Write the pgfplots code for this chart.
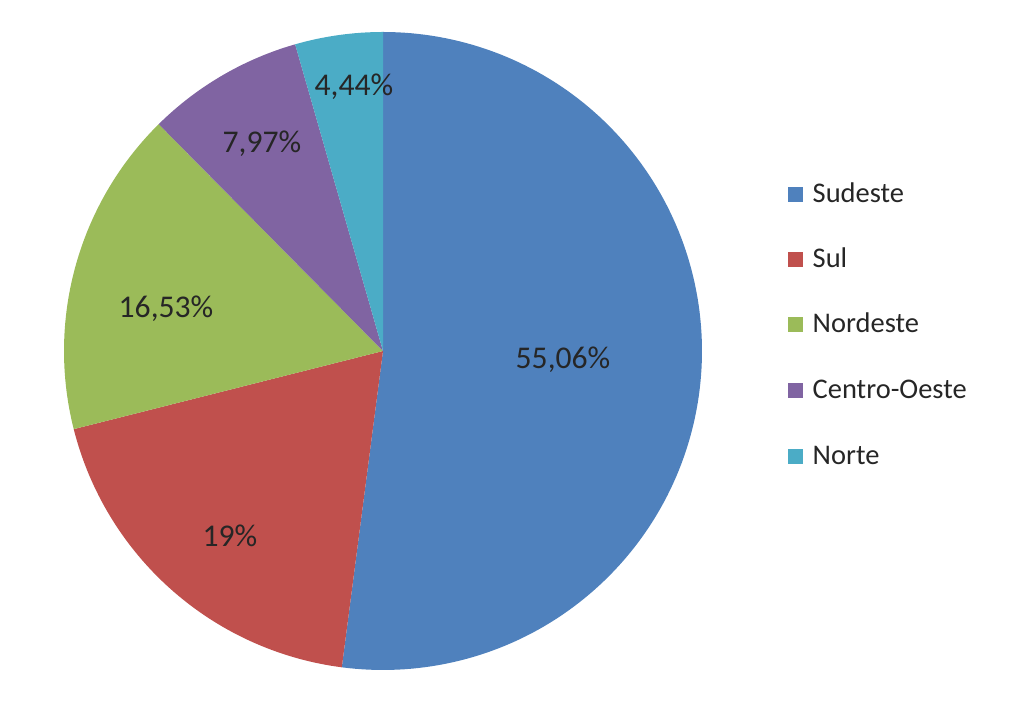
\documentclass[border=0pt]{standalone}
\usepackage{pgfplots}
\pgfplotsset{compat=1.18}
\usepackage{fontspec}
\setmainfont{Carlito}
\definecolor{cSud}{HTML}{4F81BD}
\definecolor{cSul}{HTML}{C0504D}
\definecolor{cNor}{HTML}{9BBB59}
\definecolor{cCen}{HTML}{8064A2}
\definecolor{cNrt}{HTML}{4BACC6}
% slice sizes (percent of the circle) as drawn
\def\vA{52.06}\def\vB{19}\def\vC{16.53}\def\vD{7.97}\def\vE{4.44}
\pgfmathsetmacro\aA{90-3.6*\vA}
\pgfmathsetmacro\aB{\aA-3.6*\vB}
\pgfmathsetmacro\aC{\aB-3.6*\vC}
\pgfmathsetmacro\aD{\aC-3.6*\vD}
\pgfmathsetmacro\aE{\aD-3.6*\vE}
\def\cx{383}\def\cy{365}\def\rr{319}
\begin{document}
\begin{tikzpicture}
\begin{axis}[
  width=10.24cm, height=7.16cm, scale only axis,
  xmin=0, xmax=1024, ymin=0, ymax=716,
  axis lines=none, clip=false,
  samples=150, variable=\t,
]
\path (rel axis cs:0,0) rectangle (rel axis cs:1,1);
\addplot[fill=cSud, draw=none, domain=\aA:90] ({\cx+\rr*cos(\t)},{\cy+\rr*sin(\t)}) -- (\cx,\cy) -- cycle;
\addplot[fill=cSul, draw=none, domain=\aB:\aA] ({\cx+\rr*cos(\t)},{\cy+\rr*sin(\t)}) -- (\cx,\cy) -- cycle;
\addplot[fill=cNor, draw=none, domain=\aC:\aB] ({\cx+\rr*cos(\t)},{\cy+\rr*sin(\t)}) -- (\cx,\cy) -- cycle;
\addplot[fill=cCen, draw=none, domain=\aD:\aC] ({\cx+\rr*cos(\t)},{\cy+\rr*sin(\t)}) -- (\cx,\cy) -- cycle;
\addplot[fill=cNrt, draw=none, domain=\aE:\aD] ({\cx+\rr*cos(\t)},{\cy+\rr*sin(\t)}) -- (\cx,\cy) -- cycle;
% data labels
\begin{scope}[every node/.style={font=\fontsize{9}{11}\selectfont, text=black!85, anchor=base, inner sep=0pt}]
\node at (axis cs:563,347) {55,06\%};
\node at (axis cs:230,169) {19\%};
\node at (axis cs:166,398) {16,53\%};
\node at (axis cs:262,563) {7,97\%};
\node at (axis cs:354,620) {4,44\%};
\end{scope}
% legend
\begin{scope}[every node/.style={font=\fontsize{8.1}{10}\selectfont, text=black!85, anchor=base west, inner sep=0pt}]
\fill[cSud] (axis cs:788,514) rectangle (axis cs:803,529);
\node at (axis cs:812,513) {Sudeste};
\fill[cSul] (axis cs:788,449) rectangle (axis cs:803,464);
\node at (axis cs:812,448) {Sul};
\fill[cNor] (axis cs:788,384) rectangle (axis cs:803,399);
\node at (axis cs:812,383) {Nordeste};
\fill[cCen] (axis cs:788,318) rectangle (axis cs:803,333);
\node at (axis cs:812,317) {Centro-Oeste};
\fill[cNrt] (axis cs:788,252) rectangle (axis cs:803,267);
\node at (axis cs:812,251) {Norte};
\end{scope}
\end{axis}
\end{tikzpicture}
\end{document}
